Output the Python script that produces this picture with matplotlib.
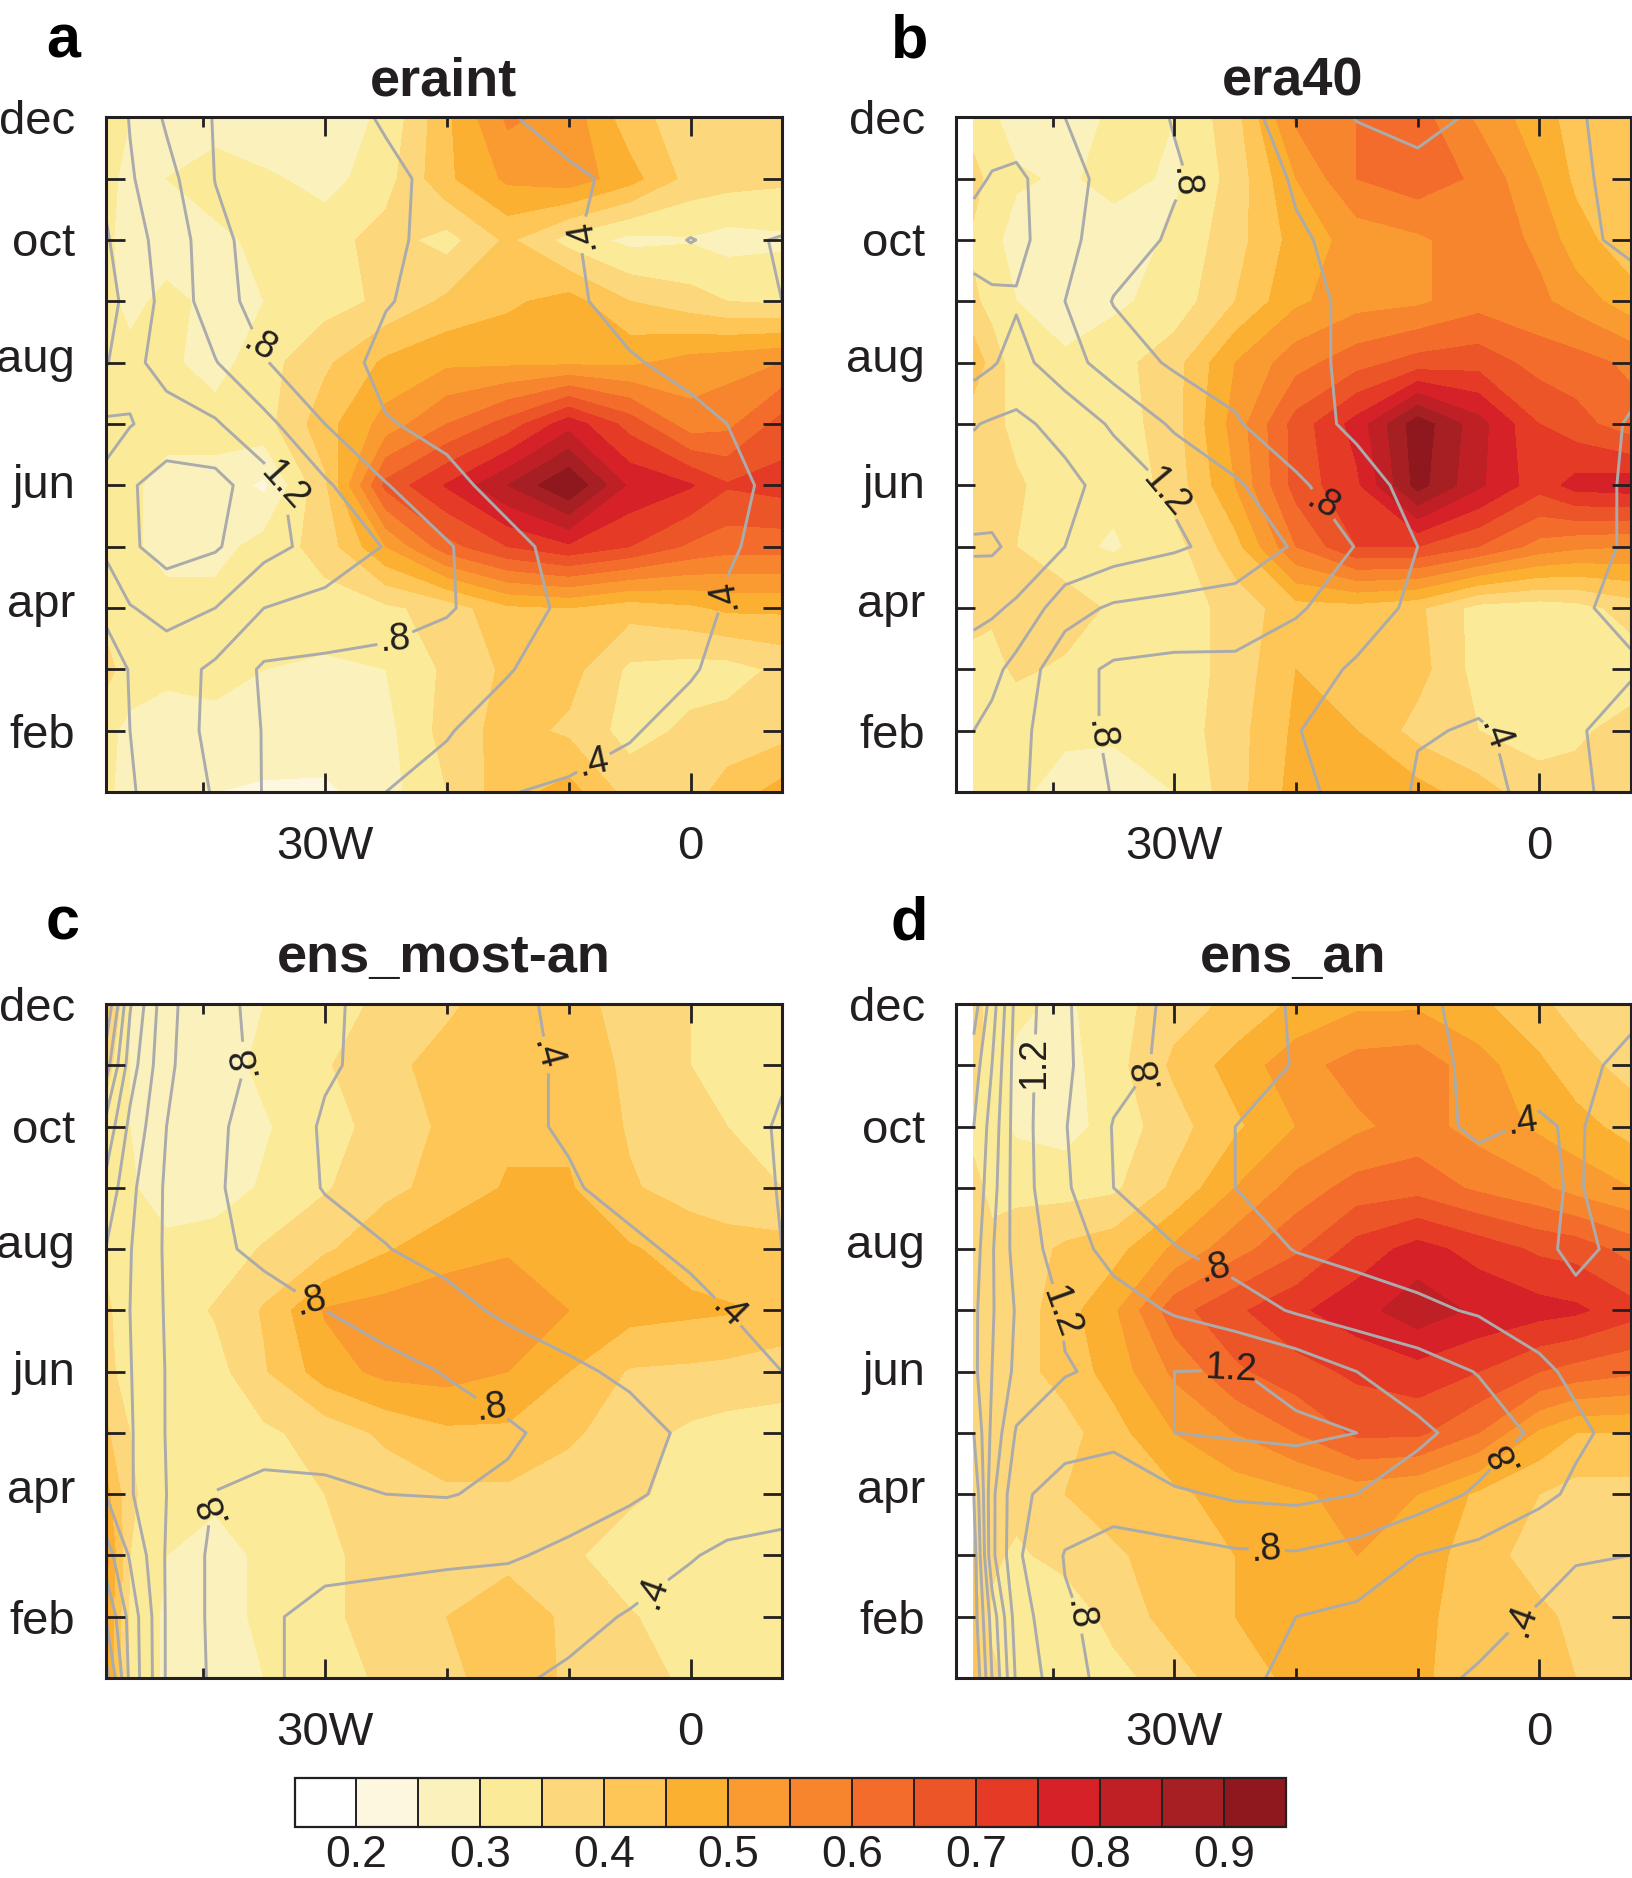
import numpy as np
import matplotlib
matplotlib.use('Agg')
import matplotlib.pyplot as plt
from matplotlib.colors import ListedColormap, BoundaryNorm
from matplotlib.cm import ScalarMappable
from matplotlib.transforms import ScaledTranslation

plt.rcParams['font.family'] = ['Liberation Sans', 'DejaVu Sans']

months = [12, 11, 10, 9, 8, 7, 6, 5, 4, 3, 2, 1]
month_ticks = [12, 10, 8, 6, 4, 2]
month_labels = ['dec', 'oct', 'aug', 'jun', 'apr', 'feb']
lon = [-48, -46, -43, -39, -35, -30, -25, -20, -15, -10, -5, 0, 3, 7.5]
lon_b = [-46.5, -45, -43, -39, -35, -30, -25, -20, -15, -10, -5, 0, 3, 7.5]
fill_levels = [.2, .25, .3, .35, .4, .45, .5, .55, .6, .65, .7, .75, .8, .85, .9]
line_levels = [.2, .4, .6, .8, 1.0, 1.2, 1.4, 1.6, 1.8, 2.0, 2.2, 2.4]
palette = ['#FFFFFF', '#FEF7DF', '#FAF1BD', '#FBEB99', '#FDD77C', '#FDC656', '#FBB032', '#F99B31',
           '#F6852E', '#F36C2B', '#EC5527', '#E53B26', '#D72128', '#BF2025', '#A61F23', '#8E181D']

fill_a = [
 [.32,.30,.28,.28,.25,.27,.31,.44,.56,.53,.42,.37,.35,.38],
 [.31,.29,.30,.32,.31,.28,.33,.44,.51,.53,.47,.38,.37,.36],
 [.31,.28,.28,.29,.31,.33,.37,.33,.41,.33,.285,.295,.28,.29],
 [.31,.29,.31,.29,.30,.33,.36,.41,.44,.47,.40,.37,.35,.34],
 [.30,.31,.31,.28,.33,.39,.46,.49,.49,.49,.49,.52,.53,.55],
 [.31,.32,.32,.32,.33,.43,.52,.60,.67,.78,.68,.57,.585,.67],
 [.33,.31,.28,.28,.24,.39,.665,.755,.85,.95,.79,.755,.705,.72],
 [.34,.31,.28,.28,.32,.37,.50,.63,.70,.74,.70,.64,.62,.62],
 [.33,.32,.32,.32,.32,.33,.34,.37,.44,.45,.42,.44,.46,.46],
 [.37,.32,.31,.31,.30,.29,.30,.36,.41,.42,.34,.33,.33,.36],
 [.31,.29,.28,.29,.29,.28,.285,.37,.42,.39,.33,.36,.37,.38],
 [.31,.28,.28,.25,.24,.24,.28,.35,.43,.47,.38,.38,.42,.47]]
line_a = [
 [1.35,1.19,.97,.787,.73,.66,.585,.50,.413,.33,.28,.25,.25,.25],
 [1.35,1.22,1.07,.795,.75,.69,.63,.56,.50,.43,.36,.32,.32,.33],
 [1.43,1.25,1.15,.85,.72,.70,.63,.55,.48,.43,.27,.195,.23,.19],
 [1.52,1.30,1.15,.88,.72,.70,.61,.54,.48,.42,.36,.30,.26,.20],
 [1.42,1.25,1.13,1.01,.81,.69,.55,.51,.47,.44,.41,.37,.35,.31],
 [1.17,1.19,1.28,1.22,1.06,.80,.61,.56,.53,.50,.47,.43,.40,.38],
 [1.22,1.38,1.48,1.47,1.28,1.03,.81,.64,.55,.52,.48,.44,.42,.38],
 [1.21,1.37,1.48,1.42,1.27,1.12,.99,.82,.64,.55,.51,.45,.41,.37],
 [1.16,1.19,1.26,1.20,1.00,.94,.88,.82,.69,.56,.50,.44,.39,.36],
 [1.30,1.19,1.10,.96,.77,.75,.74,.69,.61,.52,.46,.41,.37,.33],
 [1.28,1.20,1.10,.95,.79,.73,.67,.61,.53,.46,.41,.36,.33,.30],
 [1.27,1.21,1.15,.98,.79,.72,.60,.55,.405,.38,.36,.34,.32,.30]]

fill_b = [
 [.32,.31,.27,.27,.31,.30,.38,.56,.60,.62,.54,.47,.43,.42],
 [.37,.33,.31,.29,.32,.29,.37,.50,.60,.63,.59,.50,.44,.41],
 [.34,.32,.27,.27,.27,.31,.38,.47,.52,.54,.58,.54,.47,.42],
 [.36,.33,.30,.27,.29,.32,.40,.49,.53,.54,.58,.56,.53,.47],
 [.43,.38,.32,.31,.33,.38,.50,.58,.63,.67,.68,.63,.62,.59],
 [.37,.37,.33,.31,.32,.38,.52,.67,.77,.93,.82,.70,.67,.62],
 [.36,.37,.36,.31,.31,.37,.50,.67,.74,.92,.81,.72,.77,.78],
 [.37,.36,.35,.31,.295,.33,.43,.60,.70,.70,.65,.58,.56,.55],
 [.37,.36,.36,.38,.34,.32,.37,.43,.43,.41,.33,.32,.33,.37],
 [.33,.33,.36,.34,.32,.32,.37,.45,.445,.42,.33,.32,.32,.32],
 [.31,.31,.31,.31,.31,.32,.38,.46,.45,.38,.35,.33,.34,.37],
 [.31,.31,.31,.28,.27,.30,.38,.47,.49,.47,.42,.37,.37,.37]]
line_b = [
 [1.15,1.13,1.09,1.00,.90,.79,.66,.53,.39,.33,.43,.45,.41,.36],
 [1.17,1.21,1.24,1.07,.93,.82,.72,.58,.53,.47,.44,.42,.41,.38],
 [1.26,1.28,1.26,1.05,.90,.77,.67,.62,.55,.50,.46,.43,.42,.38],
 [1.15,1.17,1.18,1.00,.79,.75,.70,.64,.57,.53,.50,.47,.46,.44],
 [1.12,1.18,1.27,1.08,.91,.77,.72,.64,.57,.55,.53,.50,.49,.44],
 [1.39,1.42,1.44,1.34,1.17,.97,.82,.66,.57,.55,.52,.48,.46,.39],
 [1.48,1.50,1.53,1.45,1.33,1.17,1.03,.84,.66,.55,.50,.45,.43,.39],
 [1.63,1.63,1.55,1.40,1.31,1.23,1.12,.98,.79,.60,.53,.47,.43,.39],
 [1.44,1.43,1.37,1.08,.97,.93,.92,.82,.71,.55,.48,.43,.41,.38],
 [1.33,1.26,1.13,.87,.77,.75,.75,.70,.57,.49,.44,.42,.41,.41],
 [1.20,1.14,1.06,.87,.77,.73,.68,.61,.49,.41,.39,.43,.41,.36],
 [1.10,1.07,1.03,.91,.79,.79,.79,.64,.54,.38,.37,.43,.42,.36]]

fill_c = [
 [.42,.30,.28,.28,.30,.33,.36,.39,.43,.42,.38,.35,.33,.32],
 [.37,.30,.27,.28,.31,.345,.385,.42,.44,.43,.39,.35,.33,.32],
 [.33,.30,.28,.28,.295,.33,.37,.41,.44,.44,.395,.37,.35,.33],
 [.32,.305,.28,.28,.305,.345,.385,.42,.455,.455,.405,.38,.37,.35],
 [.34,.315,.31,.32,.355,.39,.445,.48,.495,.49,.455,.43,.42,.42],
 [.36,.32,.32,.355,.405,.505,.52,.53,.53,.50,.47,.46,.455,.44],
 [.37,.32,.31,.33,.395,.475,.515,.52,.50,.45,.395,.39,.385,.37],
 [.41,.35,.32,.31,.34,.37,.41,.44,.44,.41,.37,.34,.33,.33],
 [.47,.36,.31,.31,.32,.35,.37,.39,.39,.37,.36,.33,.32,.32],
 [.52,.35,.30,.28,.31,.34,.37,.38,.385,.36,.32,.31,.31,.31],
 [.50,.34,.29,.28,.31,.34,.37,.40,.43,.39,.355,.32,.31,.31],
 [.50,.34,.29,.28,.30,.325,.36,.39,.42,.395,.37,.34,.33,.33]]
line_c = [
 [2.40,1.62,1.05,.84,.76,.63,.54,.48,.43,.37,.33,.30,.29,.28],
 [2.10,1.50,1.03,.86,.76,.62,.55,.49,.44,.38,.33,.31,.32,.39],
 [1.75,1.35,1.00,.83,.72,.58,.51,.46,.42,.39,.34,.33,.36,.41],
 [1.55,1.25,.97,.82,.72,.59,.55,.51,.46,.41,.37,.35,.36,.405],
 [1.40,1.21,.97,.84,.75,.68,.605,.55,.50,.45,.42,.38,.37,.40],
 [1.40,1.20,.98,.93,.89,.80,.72,.65,.57,.52,.48,.43,.40,.33],
 [1.38,1.21,.99,.97,.96,.92,.86,.79,.70,.63,.57,.49,.45,.40],
 [1.37,1.22,.99,.97,.95,.93,.91,.88,.83,.73,.66,.57,.52,.47],
 [1.40,1.22,1.00,.79,.70,.74,.80,.81,.76,.69,.63,.53,.49,.44],
 [1.70,1.38,.98,.75,.69,.64,.64,.63,.62,.56,.47,.41,.37,.37],
 [2.00,1.53,.98,.75,.62,.56,.53,.50,.47,.44,.39,.33,.31,.30],
 [2.30,1.55,.98,.76,.63,.54,.49,.45,.42,.38,.35,.32,.30,.29]]

fill_d = [
 [.37,.33,.31,.29,.33,.38,.41,.46,.49,.49,.46,.41,.38,.37],
 [.37,.32,.29,.28,.33,.41,.47,.53,.57,.58,.52,.46,.42,.38],
 [.34,.32,.29,.28,.32,.38,.44,.50,.54,.57,.53,.49,.47,.43],
 [.36,.34,.34,.33,.34,.41,.50,.57,.62,.63,.59,.56,.53,.50],
 [.37,.36,.37,.41,.43,.51,.58,.64,.72,.77,.73,.69,.68,.63],
 [.36,.36,.37,.43,.49,.63,.69,.74,.78,.83,.79,.77,.76,.72],
 [.37,.37,.38,.42,.47,.56,.64,.68,.71,.73,.70,.65,.63,.61],
 [.37,.36,.37,.38,.43,.50,.55,.60,.66,.66,.60,.49,.45,.45],
 [.37,.36,.37,.40,.43,.44,.47,.49,.52,.50,.44,.40,.38,.38],
 [.41,.36,.34,.37,.39,.43,.45,.48,.50,.48,.42,.38,.38,.37],
 [.42,.34,.32,.31,.37,.42,.45,.47,.47,.46,.43,.41,.39,.38],
 [.42,.36,.33,.31,.33,.38,.43,.46,.47,.46,.42,.41,.40,.39]]
line_d = [
 [2.30,1.90,1.33,1.02,.87,.77,.69,.58,.49,.42,.37,.36,.37,.38],
 [2.10,1.80,1.30,1.03,.86,.76,.68,.59,.50,.43,.38,.37,.38,.42],
 [2.00,1.72,1.30,1.01,.79,.70,.60,.55,.49,.43,.385,.41,.39,.45],
 [1.95,1.68,1.30,1.03,.80,.69,.60,.56,.51,.47,.44,.42,.39,.46],
 [1.90,1.62,1.32,1.10,.93,.81,.71,.59,.54,.50,.46,.43,.37,.44],
 [1.85,1.62,1.38,1.18,1.09,.98,.89,.78,.70,.64,.58,.53,.44,.44],
 [1.85,1.60,1.35,1.21,1.17,1.20,1.21,1.13,1.00,.90,.79,.63,.57,.49],
 [2.00,1.55,1.18,1.10,1.05,1.20,1.22,1.24,1.20,1.04,.92,.76,.63,.54],
 [2.20,1.45,1.05,.90,.89,.97,1.03,1.05,1.00,.90,.77,.64,.57,.52],
 [2.30,1.45,1.03,.79,.72,.73,.77,.78,.72,.60,.54,.47,.41,.40],
 [2.30,1.72,1.10,.82,.75,.70,.66,.60,.56,.52,.46,.38,.35,.39],
 [2.40,1.80,1.17,.85,.75,.69,.63,.57,.50,.45,.38,.33,.33,.40]]

colorbar_ticks = [.2, .3, .4, .5, .6, .7, .8, .9]
panel_titles = ['eraint', 'era40', 'ens_most-an', 'ens_an']
panel_letters = ['a', 'b', 'c', 'd']

W, H = 1632, 1878
INK = '#231F20'
fig = plt.figure(figsize=(W / 100, H / 100), dpi=100)

def rect(x0, y0, x1, y1):
    return [x0 / W, 1 - y1 / H, (x1 - x0) / W, (y1 - y0) / H]

boxes = [(105.6, 117.3, 782, 792), (955.5, 117.3, 1630.5, 792),
         (105.6, 1004, 782, 1678), (955.5, 1004, 1630.5, 1678)]
fills = [fill_a, fill_b, fill_c, fill_d]
lines = [line_a, line_b, line_c, line_d]
lons = [lon, lon_b, lon, lon_b]
# label placement: (level, lon, month, rotation)
label_specs = [
    [(.8, -36.0, 8.21, -30), (1.2, -33.0, 6.0, -48), (.4, -7.6, 10.02, 100),
     (.8, -23.8, 3.28, 5), (.4, 3.3, 4.19, 100), (.4, -8.6, 1.70, 12)],
    [(.8, -29.1, 10.92, -85), (1.2, -29.9, 5.95, -50), (.8, -18.2, 5.63, -30),
     (.8, -36.3, 1.93, -82), (.4, -4.5, 1.88, -70)],
    [(.8, -37.3, 11.07, 100), (.4, -12.1, 11.16, -75), (.8, -31.3, 7.09, 15),
     (.8, -16.3, 5.42, 8), (.8, -40.3, 3.82, 112), (.4, 2.7, 6.91, -45), (.4, -2.65, 2.30, 70)],
    [(1.2, -41.5, 11.03, 90), (.8, -33.5, 11.07, 100), (.4, -1.3, 10.04, 8),
     (.8, -26.9, 7.58, 15), (1.2, -40.0, 6.96, -70), (1.2, -25.4, 6.0, -3),
     (.8, -2.8, 4.58, 118), (.8, -22.4, 3.11, 5), (.8, -38.9, 1.95, -82), (.4, -1.7, 2.0, 70)],
]
title_base = [95, 95, 972, 972]
letter_pos = [(46, 58), (891, 58), (46, 940), (891, 940)]
label_shift_px = [0, 1, 8, 4, 8, 0]

cmap = ListedColormap(palette[1:-1])
cmap.set_under(palette[0])
cmap.set_over(palette[-1])
norm = BoundaryNorm(fill_levels, cmap.N)

def fmt(v):
    s = f'{v:.1f}'
    return s[1:] if s.startswith('0') else s

for i, box in enumerate(boxes):
    ax = fig.add_axes(rect(*box))
    X, Y = np.meshgrid(lons[i], months)
    Zl = np.array(lines[i])
    ax.contourf(X, Y, np.array(fills[i]), levels=fill_levels, cmap=cmap, norm=norm, extend='both')
    by_level = {}
    for lv in line_levels:
        by_level[lv] = ax.contour(X, Y, Zl, levels=[lv], colors='#ABABAB', linewidths=2.1)
    for lv, lx, ly, rot in label_specs[i]:
        txts = by_level[lv].clabel(manual=[(lx, ly)], fmt=fmt, fontsize=27, inline=True,
                                   inline_spacing=3, colors=INK)
        txts[-1].set_rotation(rot)
    ax.set_xlim(-48, 7.5)
    ax.set_ylim(1, 12)
    ax.set_yticks(range(1, 13), minor=True)
    ax.set_yticks(month_ticks)
    ax.set_yticklabels(month_labels)
    ax.set_xticks([-40, -20, -10], minor=True)
    ax.set_xticks([-30, 0])
    ax.set_xticklabels(['30W', '0'])
    ax.tick_params(axis='both', which='major', direction='in', length=13.5, width=2, color=INK,
                   top=True, right=True, labelsize=34, labelcolor=INK)
    ax.tick_params(axis='y', which='minor', direction='in', length=13.5, width=2, color=INK, right=True)
    ax.tick_params(axis='x', which='minor', direction='in', length=7, width=2, color=INK, top=True)
    ax.tick_params(axis='x', which='major', pad=24)
    ax.tick_params(axis='y', which='major', pad=22)
    for lab, dy in zip(ax.get_yticklabels(), label_shift_px):
        lab.set_transform(lab.get_transform() + ScaledTranslation(0, dy / 100, fig.dpi_scale_trans))
    for s in ax.spines.values():
        s.set_linewidth(2.2)
        s.set_color(INK)
    ax.set_axisbelow(False)
    cx = (box[0] + box[2]) / 2
    fig.text(cx / W, 1 - title_base[i] / H, panel_titles[i], fontsize=39, fontweight='bold',
             color=INK, ha='center', va='baseline')
    fig.text(letter_pos[i][0] / W, 1 - letter_pos[i][1] / H, panel_letters[i], fontsize=44,
             fontweight='bold', color='black', ha='left', va='baseline')

cax = fig.add_axes(rect(294.5, 1778, 1286, 1826.5))
cb = fig.colorbar(ScalarMappable(norm=norm, cmap=cmap), cax=cax, orientation='horizontal',
                  extend='both', extendrect=True, extendfrac='auto', spacing='uniform',
                  drawedges=True, ticks=colorbar_ticks)
cb.ax.set_xticklabels([f'{t:.1f}' for t in colorbar_ticks])
cb.ax.tick_params(length=0, labelsize=32, labelcolor=INK, pad=6)
cb.ax.minorticks_off()
cb.outline.set_linewidth(1.6)
cb.outline.set_edgecolor(INK)
cb.dividers.set_color(INK)
cb.dividers.set_linewidth(1.4)

fig.savefig('out.png', dpi=100)
